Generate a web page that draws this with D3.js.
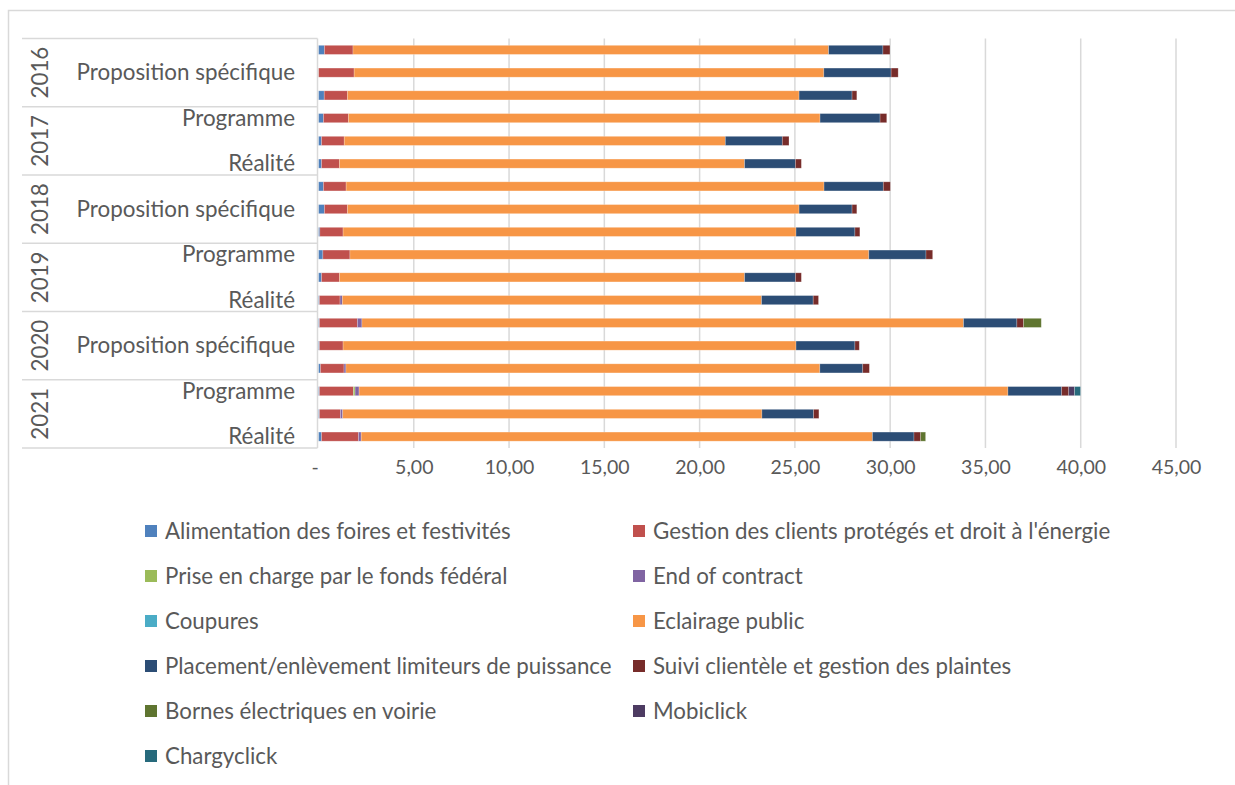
<!DOCTYPE html>
<html>
<head>
<meta charset="utf-8">
<script src="https://cdn.jsdelivr.net/npm/d3@7"></script>
<style>
  body { margin: 0; background: #fff; }
  text { font-family: Lato, "Noto Sans", sans-serif; fill: #595959; }
</style>
</head>
<body>
<div class="chart"></div>
<script>
var svgWidth = 1235;
var svgHeight = 785;

// categories (top to bottom)
var years = ["2016", "2017", "2018", "2019", "2020", "2021"];
var scenarios = ["Programme", "Proposition spécifique", "Réalité"];

// series, in stacking order
var seriesNames = [
  "Alimentation des foires et festivités",
  "Gestion des clients protégés et droit à l'énergie",
  "Prise en charge par le fonds fédéral",
  "End of contract",
  "Coupures",
  "Eclairage public",
  "Placement/enlèvement limiteurs de puissance",
  "Suivi clientèle et gestion des plaintes",
  "Bornes électriques en voirie",
  "Mobiclick",
  "Chargyclick"
];
var seriesColors = ["#4f81bd", "#c0504d", "#9bbb59", "#8064a2", "#4bacc6", "#f79646",
  "#2c4d75", "#772c2a", "#5f7530", "#4d3b62", "#276a7c"];

// one value per bar (2016 Programme ... 2021 Réalité)
var alimentation = [0.31, 0.00, 0.30, 0.26, 0.16, 0.16, 0.26, 0.31, 0.07, 0.23, 0.16, 0.05, 0.05, 0.05, 0.10, 0.05, 0.05, 0.16];
var gestion      = [1.50, 1.87, 1.22, 1.31, 1.19, 0.94, 1.19, 1.21, 1.22, 1.42, 0.94, 1.08, 1.99, 1.24, 1.24, 1.78, 1.10, 1.94];
var priseEnCharge = [0, 0, 0, 0, 0, 0, 0, 0, 0, 0, 0, 0, 0, 0, 0, 0.09, 0, 0];
var endOfContract = [0, 0, 0, 0, 0, 0, 0, 0, 0, 0, 0, 0.12, 0.24, 0, 0.10, 0.21, 0.12, 0.14];
var coupures     = [0, 0, 0, 0, 0, 0, 0, 0, 0, 0, 0, 0, 0, 0, 0, 0, 0, 0];
var eclairage    = [24.96, 24.65, 23.70, 24.75, 20.00, 21.26, 25.08, 23.70, 23.77, 27.23, 21.26, 22.00, 31.57, 23.77, 24.87, 34.05, 22.00, 26.83];
var placement    = [2.85, 3.53, 2.78, 3.15, 2.99, 2.67, 3.11, 2.78, 3.09, 3.00, 2.67, 2.71, 2.80, 3.09, 2.25, 2.82, 2.71, 2.18];
var suivi        = [0.37, 0.37, 0.25, 0.35, 0.35, 0.31, 0.37, 0.25, 0.26, 0.35, 0.31, 0.28, 0.35, 0.23, 0.35, 0.37, 0.28, 0.35];
var bornes       = [0, 0, 0, 0, 0, 0, 0, 0, 0, 0, 0, 0, 0.93, 0, 0, 0, 0, 0.26];
var mobiclick    = [0, 0, 0, 0, 0, 0, 0, 0, 0, 0, 0, 0, 0, 0, 0, 0.31, 0, 0];
var chargyclick  = [0, 0, 0, 0, 0, 0, 0, 0, 0, 0, 0, 0, 0, 0, 0, 0.31, 0, 0];

var xTicks = [0, 5, 10, 15, 20, 25, 30, 35, 40, 45];

var seriesValues = [alimentation, gestion, priseEnCharge, endOfContract, coupures, eclairage,
  placement, suivi, bornes, mobiclick, chargyclick];

// build rows for d3.stack
var rows = [];
years.forEach(function(y, i) {
  scenarios.forEach(function(s, j) {
    var idx = i * scenarios.length + j;
    var row = { key: y + "|" + s, year: y, scenario: s, idx: idx };
    seriesNames.forEach(function(n, k) { row[n] = seriesValues[k][idx]; });
    rows.push(row);
  });
});

var plot = { left: 318.5, right: 1176, top: 38.5, bottom: 448 };

var svg = d3.select(".chart")
  .append("svg")
  .attr("width", svgWidth)
  .attr("height", svgHeight);

// chart border
svg.append("rect")
  .attr("x", 8.5).attr("y", 10.5)
  .attr("width", svgWidth).attr("height", svgHeight)
  .attr("fill", "none")
  .attr("stroke", "#d9d9d9")
  .attr("stroke-width", 1.5);

var x = d3.scaleLinear().domain([0, 45]).range([plot.left, plot.right]);
var y = d3.scaleBand()
  .domain(rows.map(d => d.key))
  .range([plot.top, plot.bottom])
  .paddingInner(0.6)
  .paddingOuter(0.3);

// gridlines
svg.append("g")
  .selectAll("line")
  .data(xTicks.filter(t => t > 0))
  .enter()
  .append("line")
  .attr("x1", d => x(d)).attr("x2", d => x(d))
  .attr("y1", plot.top).attr("y2", plot.bottom)
  .attr("stroke", "#d9d9d9")
  .attr("stroke-width", 1.5);

// x tick labels
var bottomAxis = d3.axisBottom(x)
  .tickValues(xTicks)
  .tickSize(0)
  .tickPadding(0)
  .tickFormat(d => d === 0 ? "-" : d3.format(".2f")(d).replace(".", ","));

var xAxis = svg.append("g")
  .attr("transform", `translate(0, ${plot.bottom + 12})`)
  .call(bottomAxis);
xAxis.select(".domain").remove();
xAxis.selectAll("text")
  .attr("font-size", 19.5)
  .attr("fill", "#595959")
  .attr("font-family", "Lato, 'Noto Sans', sans-serif");
xAxis.selectAll(".tick").filter(d => d === 0).select("text").attr("dx", -4);

// stacked bars
var stack = d3.stack().keys(seriesNames);
var stacked = stack(rows);

svg.append("g")
  .selectAll("g")
  .data(stacked)
  .enter()
  .append("g")
  .attr("fill", (d, i) => seriesColors[i])
  .selectAll("rect")
  .data(d => d.filter(p => p[1] - p[0] > 0))
  .enter()
  .append("rect")
  .attr("x", d => x(d[0]))
  .attr("width", d => x(d[1]) - x(d[0]))
  .attr("y", d => y(d.data.key))
  .attr("height", y.bandwidth())
  .attr("stroke", "#ffffff")
  .attr("stroke-opacity", 0.3)
  .attr("stroke-width", 0.75);

// multi-level category axis
var catAxis = svg.append("g");
var boxLeft = 22;

catAxis.append("line")
  .attr("x1", plot.left - 1).attr("x2", plot.left - 1)
  .attr("y1", plot.top).attr("y2", plot.bottom)
  .attr("stroke", "#d9d9d9")
  .attr("stroke-width", 1.5);

var groupEdges = years.map((yr, i) => y(rows[i * 3].key) - y.step() * y.paddingInner() / 2);
groupEdges.push(plot.bottom);

catAxis.selectAll(".sep")
  .data(groupEdges)
  .enter()
  .append("line")
  .attr("class", "sep")
  .attr("x1", boxLeft).attr("x2", plot.left - 1)
  .attr("y1", d => d).attr("y2", d => d)
  .attr("stroke", "#d9d9d9")
  .attr("stroke-width", 1.5);

// sub labels: Excel shows every other one
catAxis.selectAll(".sub")
  .data(rows.filter(d => d.idx % 2 === 1))
  .enter()
  .append("text")
  .attr("class", "sub")
  .attr("x", 295)
  .attr("y", d => y(d.key) + y.bandwidth() / 2)
  .attr("dy", "0.35em")
  .attr("text-anchor", "end")
  .attr("font-size", 22.4)
  .text(d => d.scenario);

// year labels
catAxis.selectAll(".yr")
  .data(years)
  .enter()
  .append("text")
  .attr("class", "yr")
  .attr("transform", (d, i) => `translate(40, ${(groupEdges[i] + groupEdges[i + 1]) / 2}) rotate(-90)`)
  .attr("dy", "0.35em")
  .attr("text-anchor", "middle")
  .attr("font-size", 22.4)
  .text(d => d);

// legend
var legend = svg.append("g");
var legendItems = legend.selectAll("g")
  .data(seriesNames)
  .enter()
  .append("g")
  .attr("transform", (d, i) => `translate(${i % 2 === 0 ? 145 : 633}, ${531 + Math.floor(i / 2) * 45})`);

legendItems.append("rect")
  .attr("x", 0).attr("y", -6)
  .attr("width", 12).attr("height", 12)
  .attr("fill", (d, i) => seriesColors[i]);

legendItems.append("text")
  .attr("x", 20)
  .attr("dy", "0.35em")
  .attr("font-size", 22.3)
  .text(d => d);
</script>
</body>
</html>
